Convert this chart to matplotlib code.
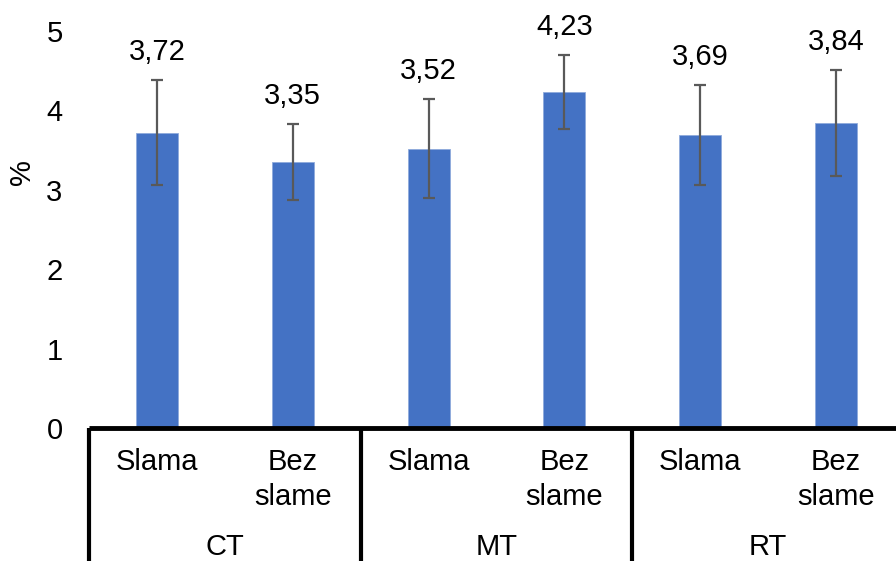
import matplotlib
matplotlib.use("Agg")
import matplotlib.pyplot as plt
import matplotlib.transforms as mtransforms
import numpy as np

plt.rcParams['font.family'] = ['Liberation Sans', 'DejaVu Sans']

groups = ["CT", "MT", "RT"]
subcats = ["Slama", "Bez\nslame"]
values = [3.72, 3.35, 3.52, 4.23, 3.69, 3.84]
errors = [0.66, 0.48, 0.62, 0.47, 0.63, 0.665]
value_labels = ["3,72", "3,35", "3,52", "4,23", "3,69", "3,84"]
yticks = [0, 1, 2, 3, 4, 5]

FS = 21
W, H = 896, 561
fig = plt.figure(figsize=(W / 100, H / 100), dpi=100)
ax = fig.add_axes([89 / W, 133 / H, 815 / W, 397 / H])

n = len(values)
x = np.arange(n)
bar_color = "#4472C4"
ax.bar(x, values, width=0.31, color=bar_color, edgecolor="#8FAADC", linewidth=0.6, zorder=2)
ax.errorbar(x, values, yerr=errors, fmt="none", ecolor="#595959", elinewidth=1.6,
            capsize=4, capthick=1.6, zorder=3)

for xi, v, e, lab in zip(x, values, errors, value_labels):
    ax.annotate(lab, (xi, v + e), xytext=(0, 10), textcoords="offset points",
                ha="center", va="bottom", fontsize=FS, color="#000000")

ax.set_xlim(-0.5, n - 0.5)
ax.set_ylim(0, 5)
ax.set_yticks(yticks)
ax.set_yticklabels([str(t) for t in yticks], fontsize=FS)
ax.tick_params(axis="y", length=0, pad=19)
ax.set_xticks([])
for s in ["left", "right", "top", "bottom"]:
    ax.spines[s].set_visible(False)

trans = mtransforms.blended_transform_factory(ax.transData, ax.transAxes)
def fy(py):
    return (428 - py) / 397

ax.text((22 - 89) / 815, fy(172), "%", transform=ax.transAxes, rotation=90,
        ha="center", va="center", fontsize=FS)

# x axis line
ax.plot([-0.5, n - 0.5], [0, 0], transform=trans, color="black", lw=3.5,
        clip_on=False, zorder=4, solid_capstyle="butt")
# group separators
ns = len(subcats)
for g in range(len(groups) + 1):
    xs = g * ns - 0.5
    ax.plot([xs, xs], [0, fy(565)], transform=trans, color="black", lw=3,
            clip_on=False, zorder=4, solid_capstyle="butt")

# subcategory labels
for i in range(n):
    ax.text(x[i], fy(448), subcats[i % ns], transform=trans, ha="center", va="top",
            fontsize=FS, linespacing=1.32)
# group labels
for g, name in enumerate(groups):
    cx = g * ns + (ns - 1) / 2
    ax.text(cx, fy(547), name, transform=trans, ha="center", va="center", fontsize=FS)

fig.savefig("out.png", dpi=100)
